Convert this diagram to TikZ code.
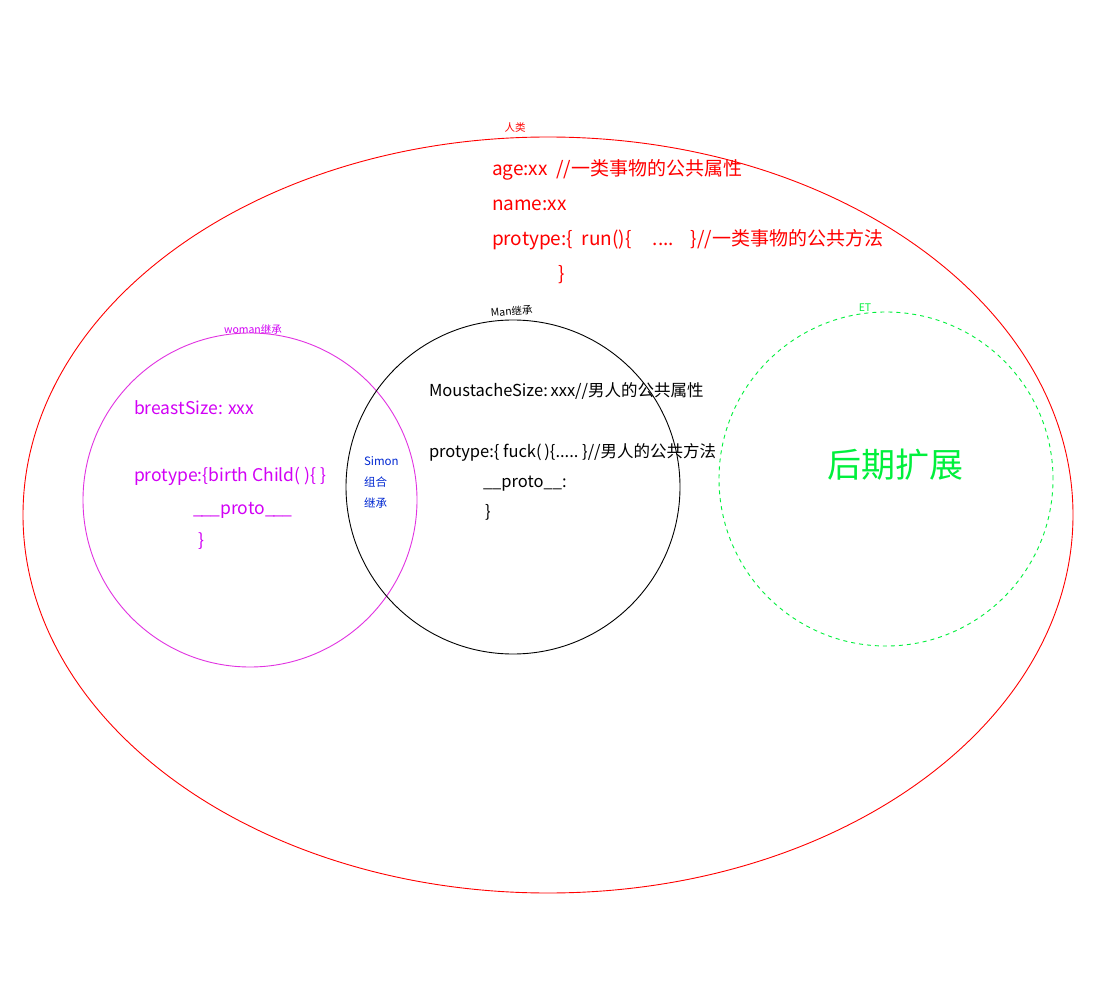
\documentclass[tikz,border=0pt]{standalone}
\usepackage{fontspec}
\setmainfont{Noto Sans CJK SC}
\usetikzlibrary{shapes.geometric}
\definecolor{cred}{RGB}{255,0,0}
\definecolor{cmag}{RGB}{225,50,225}
\definecolor{cmagtxt}{RGB}{210,0,245}
\definecolor{cgreen}{RGB}{0,240,60}
\definecolor{cblue}{RGB}{0,40,210}
\tikzset{
  ring/.style={draw, circle, inner sep=0pt, minimum size=334pt, line width=0.9pt},
  txt/.style={anchor=base west, inner sep=0pt, outer sep=0pt},
  lbl/.style={anchor=base, inner sep=0pt, font=\fontsize{10.5}{12}\selectfont},
}
\begin{document}
\begin{tikzpicture}[x=1pt,y=-1pt]
\useasboundingbox (0,0) rectangle (1117,1000);
\fill[white] (0,0) rectangle (1117,1000);
% big ellipse
\node[draw=cred, ellipse, inner sep=0pt, minimum width=1050pt, minimum height=756pt, line width=0.9pt] (human) at (548,515) {};
\node[lbl, text=cred] (humanlbl) at (515,132) {人类};
% circles
\node[ring, draw=cmag] (woman) at (250,500) {};
\node[ring, draw=black] (man) at (513,487) {};
\node[ring, draw=cgreen, dash pattern=on 4pt off 4pt] (et) at (886,479) {};
\node[lbl, text=cmagtxt] (womanlbl) at (253,334) {woman继承};
\node[lbl, text=black, rotate=5] (manlbl) at (512,315) {Man继承};
\node[lbl, text=cgreen] (etlbl) at (865,312) {ET};
% red text
\begin{scope}[font=\fontsize{19}{22}\selectfont, text=cred]
\node[txt] (r1) at (492,176) {age:xx\ \ //一类事物的公共属性};
\node[txt] (r2) at (492,211) {name:xx};
\node[txt] (r3) at (492,246) {protype:\{\ \ run()\{\ \ \ \ \ ....\ \ \ \ \}//一类事物的公共方法};
\node[txt] (r4) at (558,281) {\}};
\end{scope}
% black text
\begin{scope}[font=\fontsize{16.5}{20}\selectfont, text=black]
\node[txt] (b1) at (429,396) {MoustacheSize:\,xxx//男人的公共属性};
\node[txt] (b2) at (429,457) {protype:\{ fuck(\,)\{.....\ \}//男人的公共方法};
\node[txt] (b3) at (483,487) {\_\_proto\_\_:};
\node[txt] (b4) at (485,517) {\}};
\end{scope}
% magenta text
\begin{scope}[font=\fontsize{17.5}{20}\selectfont, text=cmagtxt]
\node[txt] (m1) at (134,414) {breastSize: xxx};
\node[txt] (m2) at (134,481) {protype:\{birth Child( )\{ \}};
\node[txt] (m3) at (193,514) {\_\kern-1pt\_\kern-1pt\_proto\_\kern-1pt\_\kern-1pt\_};
\node[txt] (m4) at (198,546) {\}};
\end{scope}
% blue text
\begin{scope}[font=\fontsize{11.5}{13}\selectfont, text=cblue]
\node[txt] (s1) at (364,465) {Simon};
\node[txt] (s2) at (364,486) {组合};
\node[txt] (s3) at (364,507) {继承};
\end{scope}
% green text
\node[txt, text=cgreen, font=\fontsize{34}{36}\selectfont] (later) at (827,477) {后期扩展};
\end{tikzpicture}
\end{document}
